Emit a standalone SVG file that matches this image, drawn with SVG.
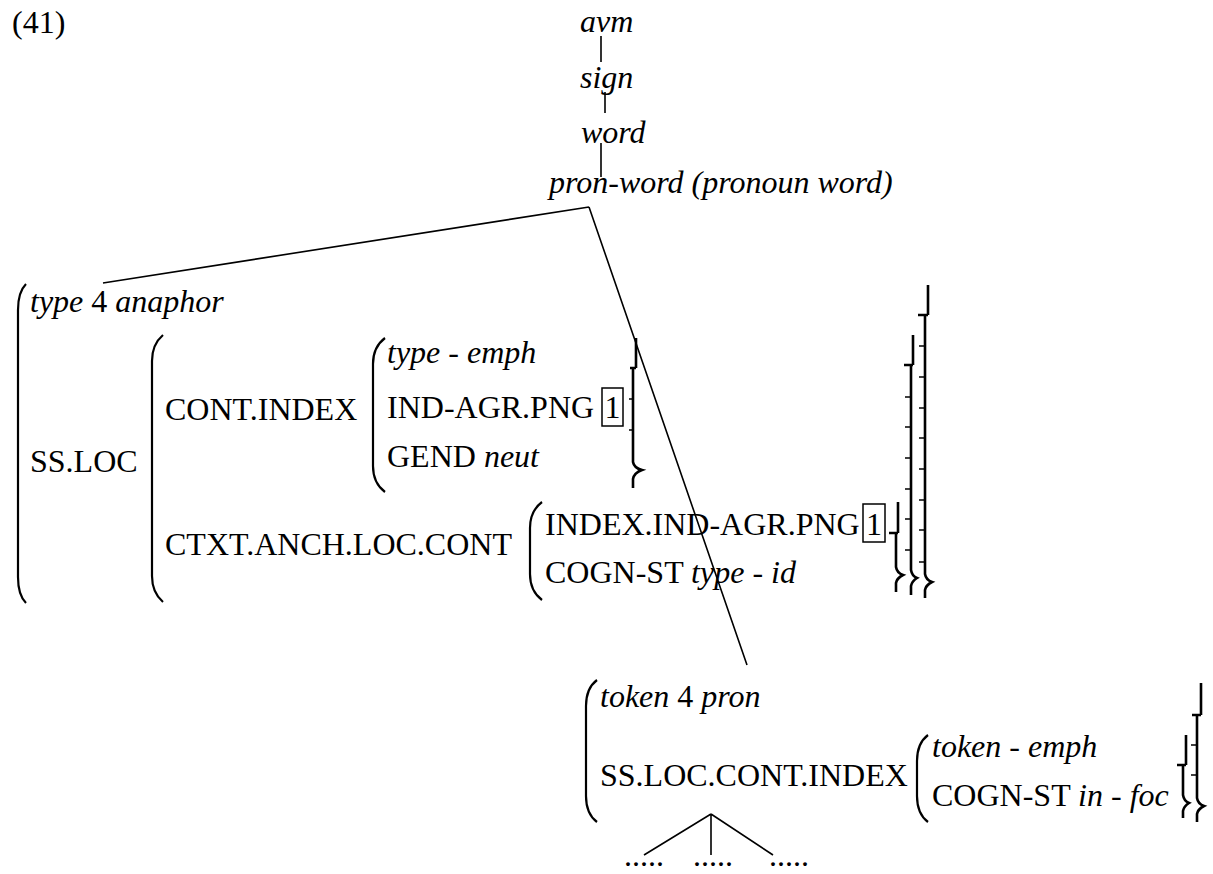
<svg xmlns="http://www.w3.org/2000/svg" width="1213" height="874" viewBox="0 0 1213 874">
<style>
text{font-family:"Liberation Serif","Times New Roman",serif;font-size:32px;fill:#000}
.i{font-style:italic}
.ln{stroke:#000;stroke-width:1.6;fill:none}
.par{stroke:#000;stroke-width:2.2;fill:none}
.br{stroke:#000;stroke-width:2.6;fill:none}
.tk{stroke:#000;stroke-width:1.4;fill:none}
.box{stroke:#000;stroke-width:1.5;fill:none}
</style>
<rect width="1213" height="874" fill="#fff"/>
<g id="label"><text x="12" y="33">(41)</text></g>
<g id="n-avm"><text class="i" x="580" y="32">avm</text></g>
<g id="n-sign"><text class="i" x="580" y="88">sign</text></g>
<g id="n-word"><text class="i" x="581" y="143">word</text></g>
<g id="n-pronword"><text class="i" x="549" y="193">pron-word (pronoun word)</text></g>
<g id="connectors">
<path class="ln" d="M601,36 L601,62 M605,92 L605,113 M601,143 L601,177"/>
<path class="ln" d="M589,207 L103,283 M589,207 L747,665"/>
<path class="ln" d="M711,814 L644,855 M711,814 L711,855 M711,814 L773,855"/>
</g>
<g id="n-type-avm">
<path class="par" d="M26,284 C20,290 18,298 18,310 L18,577 C18,589 20,597 26,603"/>
<path class="par" d="M163,335 C156,341 152,349 152,361 L152,576 C152,588 156,596 163,602"/>
<path class="par" d="M385,338 C377,344 373,352 373,364 L373,466 C373,478 377,486 385,492"/>
<path class="par" d="M542,502 C534,508 530,516 530,528 L530,574 C530,586 534,594 542,600"/>
<text x="30" y="312"><tspan class="i">type</tspan> 4 <tspan class="i">anaphor</tspan></text>
<text x="30" y="472">SS.LOC</text>
<text x="165" y="420">CONT.INDEX</text>
<text x="387" y="363"><tspan class="i">type</tspan> - <tspan class="i">emph</tspan></text>
<text x="387" y="418">IND-AGR.PNG</text>
<rect class="box" x="602" y="388" width="21" height="38"/>
<text x="612.5" y="418" text-anchor="middle">1</text>
<text x="387" y="467">GEND <tspan class="i">neut</tspan></text>
<text x="165" y="555">CTXT.ANCH.LOC.CONT</text>
<text x="545" y="535">INDEX.IND-AGR.PNG</text>
<rect class="box" x="863" y="504" width="22" height="38"/>
<text x="874" y="535" text-anchor="middle">1</text>
<text x="545" y="583">COGN-ST <tspan class="i">type</tspan> - <tspan class="i">id</tspan></text>
<path class="br" d="M636,338 L636,368 M630,368 L636,368 M633,368 L633,462 Q634,468 642,470 Q634,473 633,479 L633,488"/>
<path class="tk" d="M629,399 L633,399 M629,430 L633,430"/>
<path class="br" d="M928,285 L928,315 M918,315 L928,315 M925,315 L925,574 Q926,580 932,582 Q926,585 925,590 L925,598"/>
<path class="tk" d="M919,346 L925,346 M919,377 L925,377 M919,408 L925,408 M919,438 L925,438 M919,469 L925,469 M919,500 L925,500 M919,530 L925,530 M919,562 L925,562"/>
<path class="br" d="M913,335 L913,365 M904,365 L913,365 M911,365 L911,570 Q912,576 917,578 Q912,581 911,586 L911,595"/>
<path class="tk" d="M905,397 L911,397 M905,427 L911,427 M905,458 L911,458 M905,489 L911,489 M905,519 L911,519 M905,550 L911,550"/>
<path class="br" d="M898,502 L898,533 M889,533 L898,533 M896,533 L896,567 Q897,573 903,575 Q897,578 896,583 L896,592"/>
</g>
<g id="n-token-avm">
<path class="par" d="M597,680 C589,686 586,694 586,706 L586,796 C586,808 589,816 597,822"/>
<path class="par" d="M928,735 C920,741 917,749 917,761 L917,796 C917,808 920,816 928,822"/>
<text x="600" y="707"><tspan class="i">token</tspan> 4 <tspan class="i">pron</tspan></text>
<text x="600" y="786">SS.LOC.CONT.INDEX</text>
<text x="932" y="757"><tspan class="i">token</tspan> - <tspan class="i">emph</tspan></text>
<text x="932" y="806">COGN-ST <tspan class="i">in</tspan> - <tspan class="i">foc</tspan></text>
<path class="br" d="M1201,683 L1201,715 M1192,715 L1201,715 M1197,715 L1197,798 Q1198,804 1204,806 Q1198,809 1197,814 L1197,822"/>
<path class="tk" d="M1191,745 L1197,745 M1191,775 L1197,775"/>
<path class="br" d="M1186,735 L1186,765 M1177,765 L1186,765 M1183,765 L1183,795 Q1184,801 1189,803 Q1184,806 1183,811 L1183,818"/>
</g>
<g id="n-dots">
<text x="624" y="866">.....</text>
<text x="693" y="866">.....</text>
<text x="769" y="866">.....</text>
</g>
</svg>
